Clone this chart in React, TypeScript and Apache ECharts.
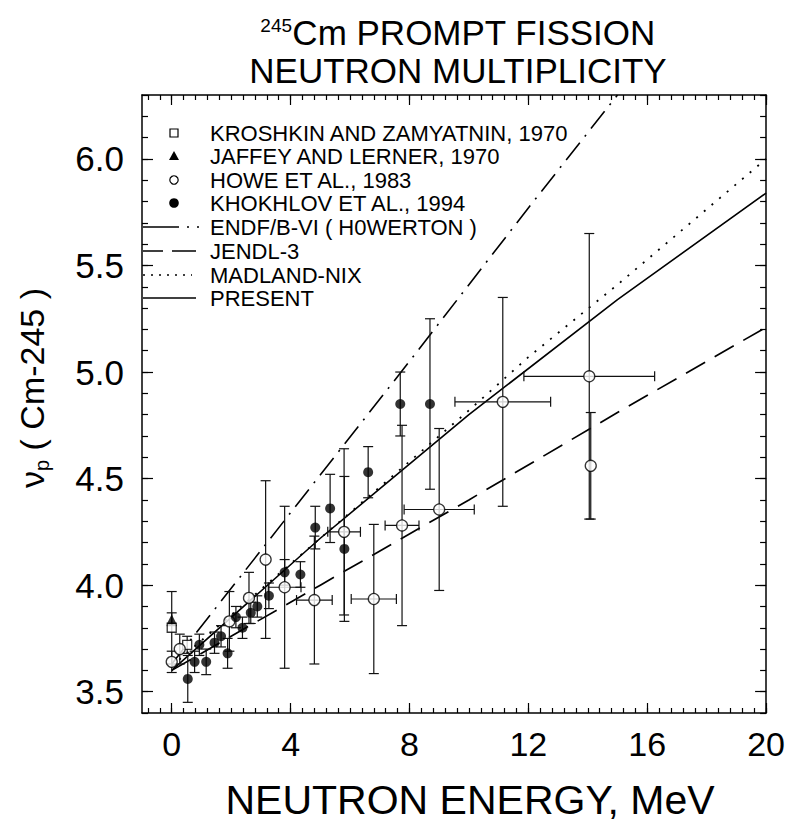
import React, { useEffect, useRef } from "react";
import * as echarts from "echarts";

const FONT = "'Liberation Sans', Arial, Helvetica, sans-serif";

// ---- axis ticks / labels ----
const X_MAJOR = [0, 4, 8, 12, 16, 20];
const Y_MAJOR = [3.5, 4.0, 4.5, 5.0, 5.5, 6.0];
const X_MINOR: number[] = [];
for (let i = -2; i <= 50; i++) X_MINOR.push(Math.round(i * 0.4 * 100) / 100);
const Y_MINOR: number[] = [];
for (let i = 34; i <= 63; i++) Y_MINOR.push(Math.round(i * 10) / 100);

// ---- evaluations (lines) ----
const endfE = [0, 4, 8, 12, 15];
const endfNu = [3.63, 4.34, 5.05, 5.77, 6.3];
const jendlE = [0, 5, 10, 15, 20];
const jendlNu = [3.6, 4.0, 4.4, 4.81, 5.21];
const madlandE = [0, 5, 10, 12, 15, 20];
const madlandNu = [3.62, 4.22, 4.82, 5.07, 5.41, 6.0];
const presentE = [0, 5, 10, 15, 20];
const presentNu = [3.6, 4.22, 4.8, 5.34, 5.84];

// ---- experimental data ----
const kroshkinE = [0.0, 0.52];
const kroshkinNu = [3.8, 3.72];
const kroshkinDNu = [0.17, 0.04];

const jaffeyE = [0.0];
const jaffeyNu = [3.84];
const jaffeyDNu = [0.03];

const howeE = [0.0, 0.27, 1.94, 2.6, 3.16, 3.8, 4.8, 5.8, 6.8, 7.75, 9.0, 11.14, 14.05, 14.1];
const howeNu = [3.64, 3.7, 3.83, 3.94, 4.12, 3.99, 3.93, 4.25, 3.935, 4.28, 4.355, 4.86, 4.98, 4.56];
const howeDE = [0, 0, 0, 0, 0, 0.55, 0.6, 0.55, 0.76, 0.57, 1.18, 1.61, 2.2, 0];
const howeDNu = [0.05, 0.07, 0.14, 0.12, 0.37, 0.38, 0.3, 0.39, 0.35, 0.47, 0.38, 0.49, 0.67, 0.25];

const khokhlovE = [0.54, 0.77, 0.93, 1.16, 1.44, 1.66, 1.88, 2.16, 2.38, 2.66, 2.88, 3.27, 3.8, 4.33, 4.83, 5.33, 5.81, 6.61, 7.69, 8.69];
const khokhlovNu = [3.56, 3.64, 3.72, 3.64, 3.73, 3.76, 3.68, 3.85, 3.8, 3.87, 3.9, 3.95, 4.06, 4.05, 4.27, 4.36, 4.17, 4.53, 4.85, 4.85];
const khokhlovDNu = [0.11, 0.05, 0.05, 0.06, 0.05, 0.05, 0.07, 0.05, 0.05, 0.05, 0.05, 0.06, 0.06, 0.06, 0.1, 0.16, 0.34, 0.12, 0.15, 0.4];

const legendLabels = [
  "KROSHKIN AND ZAMYATNIN, 1970",
  "JAFFEY AND LERNER, 1970",
  "HOWE ET AL., 1983",
  "KHOKHLOV ET AL., 1994",
  "ENDF/B-VI ( H0WERTON )",
  "JENDL-3",
  "MADLAND-NIX",
  "PRESENT",
];

const pairs = (xs: number[], ys: number[]) => xs.map((x, i) => [x, ys[i]]);

function errRender(params: any, api: any) {
  const x = api.value(0);
  const y = api.value(1);
  const xe = api.value(2);
  const ye = api.value(3);
  const style = { stroke: "#111", lineWidth: 1.2, fill: null };
  const children: any[] = [];
  const cap = 5;
  if (ye > 0) {
    const t = api.coord([x, y + ye]);
    const b = api.coord([x, y - ye]);
    children.push({ type: "line", shape: { x1: t[0], y1: t[1], x2: b[0], y2: b[1] }, style });
    children.push({ type: "line", shape: { x1: t[0] - cap, y1: t[1], x2: t[0] + cap, y2: t[1] }, style });
    children.push({ type: "line", shape: { x1: b[0] - cap, y1: b[1], x2: b[0] + cap, y2: b[1] }, style });
  }
  if (xe > 0) {
    const l = api.coord([x - xe, y]);
    const r = api.coord([x + xe, y]);
    children.push({ type: "line", shape: { x1: l[0], y1: l[1], x2: r[0], y2: r[1] }, style });
    children.push({ type: "line", shape: { x1: l[0], y1: l[1] - cap, x2: l[0], y2: l[1] + cap }, style });
    children.push({ type: "line", shape: { x1: r[0], y1: r[1] - cap, x2: r[0], y2: r[1] + cap }, style });
  }
  return { type: "group", children };
}

function errSeries(xs: number[], ys: number[], dxs: number[] | null, dys: number[]) {
  return {
    type: "custom",
    renderItem: errRender,
    encode: { x: 0, y: 1 },
    data: xs.map((x, i) => [x, ys[i], dxs ? dxs[i] : 0, dys[i]]),
    z: 2,
    silent: true,
  };
}

function xAxisDef(pos: string, values: number[], len: number, labels: boolean, line: boolean) {
  return {
    type: "value",
    position: pos,
    min: -1,
    max: 20,
    axisLine: { show: line, onZero: false, lineStyle: { color: "#000", width: 1.5 } },
    axisTick: { show: true, inside: true, length: len, customValues: values, lineStyle: { color: "#000", width: 1.2 } },
    axisLabel: labels
      ? { show: true, customValues: X_MAJOR, fontSize: 34, color: "#000", fontFamily: FONT, margin: 14 }
      : { show: false },
    splitLine: { show: false },
  };
}

function yAxisDef(pos: string, values: number[], len: number, labels: boolean, line: boolean) {
  return {
    type: "value",
    position: pos,
    min: 3.4,
    max: 6.3,
    axisLine: { show: line, onZero: false, lineStyle: { color: "#000", width: 1.5 } },
    axisTick: { show: true, inside: true, length: len, customValues: values, lineStyle: { color: "#000", width: 1.2 } },
    axisLabel: labels
      ? {
          show: true,
          customValues: Y_MAJOR,
          fontSize: 35,
          color: "#000",
          fontFamily: FONT,
          margin: 18,
          formatter: (v: number) => v.toFixed(1),
        }
      : { show: false },
    splitLine: { show: false },
  };
}

function lineSeries(xs: number[], ys: number[], type: any, width = 1.6) {
  return {
    type: "line",
    data: pairs(xs, ys),
    showSymbol: false,
    symbol: "none",
    lineStyle: { color: "#000", width, type },
    z: 1,
    silent: true,
  };
}

function buildLegend() {
  const g: any[] = [];
  const rowY = [133, 156, 180, 203, 227, 251, 275, 298];
  const sx = 174;
  legendLabels.forEach((t, i) => {
    g.push({
      type: "text",
      x: 210,
      y: rowY[i],
      style: { text: t, font: `22px ${FONT}`, fill: "#000", align: "left", verticalAlign: "middle" },
    });
  });
  g.push({ type: "rect", shape: { x: sx - 4, y: rowY[0] - 4, width: 8, height: 8 }, style: { fill: "#fff", stroke: "#000", lineWidth: 1.2 } });
  g.push({
    type: "polygon",
    shape: { points: [[sx, rowY[1] - 5], [sx - 5, rowY[1] + 4], [sx + 5, rowY[1] + 4]] },
    style: { fill: "#000" },
  });
  g.push({ type: "circle", shape: { cx: sx, cy: rowY[2], r: 4.2 }, style: { fill: "#fff", stroke: "#000", lineWidth: 1.2 } });
  g.push({ type: "circle", shape: { cx: sx, cy: rowY[3], r: 4.8 }, style: { fill: "#000" } });
  const ls = (y: number, x2: number, dash: any) => ({
    type: "line",
    shape: { x1: 143, y1: y, x2, y2: y },
    style: { stroke: "#000", lineWidth: 1.6, lineDash: dash },
  });
  g.push(ls(rowY[4], 204, [36, 8, 2, 8, 2, 40]));
  g.push(ls(rowY[5], 196, [20, 9, 24, 40]));
  g.push(ls(rowY[6], 192, [2, 6]));
  g.push(ls(rowY[7], 196, null));
  return g;
}

export default function App() {
  const ref = useRef<HTMLDivElement>(null);
  useEffect(() => {
    if (!ref.current) return;
    const chart = echarts.init(ref.current, null, { renderer: "svg" });
    const option: any = {
      animation: false,
      backgroundColor: "#fff",
      grid: { left: 142, right: 19, top: 95, bottom: 117 },
      xAxis: [
        xAxisDef("bottom", X_MAJOR, 10, true, true),
        xAxisDef("top", X_MAJOR, 10, false, true),
        xAxisDef("bottom", X_MINOR, 5, false, false),
        xAxisDef("top", X_MINOR, 5, false, false),
      ],
      yAxis: [
        yAxisDef("left", Y_MAJOR, 11, true, true),
        yAxisDef("right", Y_MAJOR, 11, false, true),
        yAxisDef("left", Y_MINOR, 6, false, false),
        yAxisDef("right", Y_MINOR, 6, false, false),
      ],
      series: [
        lineSeries(endfE, endfNu, [22, 8, 2, 8], 1.6),
        lineSeries(jendlE, jendlNu, [22, 11], 1.7),
        lineSeries(madlandE, madlandNu, [2, 8], 1.8),
        lineSeries(presentE, presentNu, "solid", 1.6),
        errSeries(kroshkinE, kroshkinNu, null, kroshkinDNu),
        errSeries(jaffeyE, jaffeyNu, null, jaffeyDNu),
        errSeries(howeE, howeNu, howeDE, howeDNu),
        errSeries(khokhlovE, khokhlovNu, null, khokhlovDNu),
        {
          type: "scatter",
          data: pairs(kroshkinE, kroshkinNu),
          symbol: "rect",
          symbolSize: 9,
          itemStyle: { color: "#fff", borderColor: "#000", borderWidth: 1.3 },
          z: 3,
        },
        {
          type: "scatter",
          data: pairs(jaffeyE, jaffeyNu),
          symbol: "triangle",
          symbolSize: 10,
          itemStyle: { color: "#000" },
          z: 4,
        },
        {
          type: "scatter",
          data: pairs(howeE, howeNu),
          symbol: "circle",
          symbolSize: 11,
          itemStyle: { color: "#fff", borderColor: "#000", borderWidth: 1.3 },
          z: 3,
        },
        {
          type: "scatter",
          data: pairs(khokhlovE, khokhlovNu),
          symbol: "circle",
          symbolSize: 10,
          itemStyle: { color: "#000" },
          z: 4,
        },
      ],
      graphic: [
        {
          type: "text",
          x: 458,
          y: 32,
          style: {
            text: "{sup|245}{m|Cm PROMPT FISSION}",
            align: "center",
            verticalAlign: "middle",
            fill: "#000",
            rich: {
              sup: { fontSize: 19, fontFamily: FONT, verticalAlign: "top", lineHeight: 33, fill: "#000" },
              m: { fontSize: 35, fontFamily: FONT, lineHeight: 33, fill: "#000" },
            },
          },
        },
        {
          type: "text",
          x: 458,
          y: 70,
          style: {
            text: "NEUTRON MULTIPLICITY",
            font: `35px ${FONT}`,
            lineHeight: 33,
            fill: "#000",
            align: "center",
            verticalAlign: "middle",
          },
        },
        {
          type: "text",
          x: 470,
          y: 800,
          style: { text: "NEUTRON ENERGY, MeV", font: `41px ${FONT}`, fill: "#000", align: "center", verticalAlign: "middle" },
        },
        {
          type: "text",
          x: 32,
          y: 388,
          rotation: Math.PI / 2,
          style: {
            text: "{nu|ν}{sub|p}{m| ( Cm-245 )}",
            align: "center",
            verticalAlign: "middle",
            fill: "#000",
            rich: {
              nu: { fontSize: 34, fontFamily: FONT, lineHeight: 40, fill: "#000" },
              sub: { fontSize: 20, fontFamily: FONT, verticalAlign: "bottom", lineHeight: 40, fill: "#000" },
              m: { fontSize: 34, fontFamily: FONT, lineHeight: 40, fill: "#000" },
            },
          },
        },
        ...buildLegend(),
      ],
    };
    chart.setOption(option);
    return () => chart.dispose();
  }, []);
  return <div ref={ref} style={{ position: "absolute", left: 0, top: 0, width: 788, height: 830 }} />;
}
